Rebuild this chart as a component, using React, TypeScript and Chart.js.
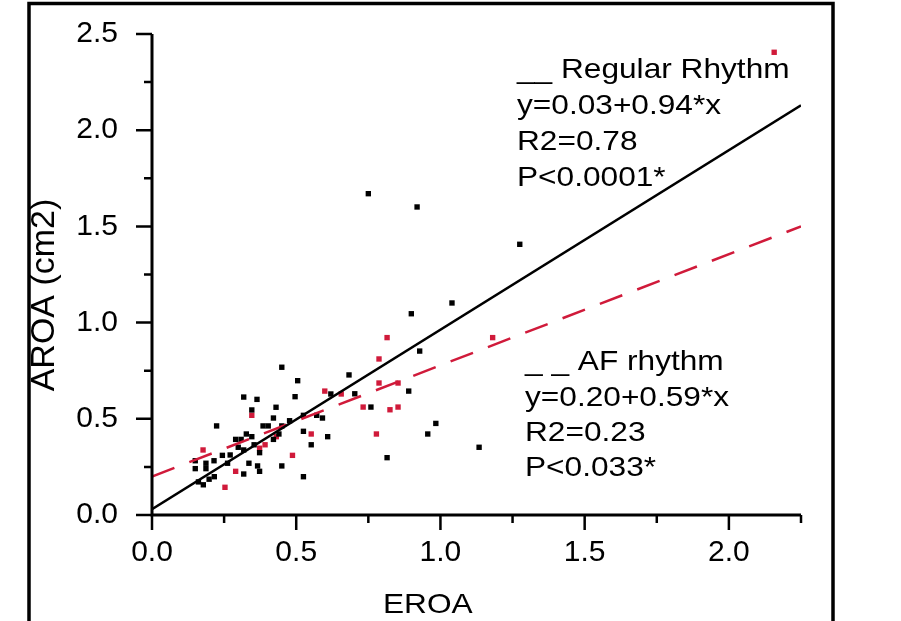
import { useEffect, useRef } from "react";
import { Chart, registerables } from "chart.js";

Chart.register(...registerables);

// Regular rhythm (black squares)
const regularX = [0.150, 0.150, 0.161, 0.178, 0.187, 0.187, 0.198, 0.215, 0.216, 0.224, 0.244, 0.262, 0.271, 0.290, 0.299, 0.309, 0.318, 0.318, 0.318, 0.327, 0.336, 0.346, 0.346, 0.354, 0.364, 0.366, 0.373, 0.373, 0.385, 0.403, 0.421, 0.421, 0.430, 0.440, 0.450, 0.450, 0.450, 0.477, 0.496, 0.505, 0.525, 0.525, 0.525, 0.552, 0.571, 0.591, 0.609, 0.620, 0.683, 0.703, 0.750, 0.759, 0.815, 0.890, 0.899, 0.919, 0.928, 0.956, 0.984, 1.040, 1.134, 1.275];
const regularY = [0.282, 0.241, 0.172, 0.157, 0.269, 0.241, 0.186, 0.282, 0.199, 0.463, 0.310, 0.269, 0.312, 0.393, 0.352, 0.393, 0.613, 0.338, 0.213, 0.421, 0.269, 0.546, 0.407, 0.365, 0.601, 0.255, 0.324, 0.227, 0.463, 0.463, 0.504, 0.393, 0.560, 0.421, 0.768, 0.463, 0.255, 0.490, 0.615, 0.698, 0.518, 0.435, 0.199, 0.365, 0.518, 0.504, 0.407, 0.629, 0.728, 0.630, 1.670, 0.561, 0.298, 0.644, 1.046, 1.601, 0.852, 0.421, 0.476, 1.102, 0.352, 1.407];

// AF rhythm (red squares)
const afX = [0.177, 0.253, 0.290, 0.346, 0.373, 0.392, 0.431, 0.487, 0.552, 0.599, 0.656, 0.732, 0.778, 0.787, 0.787, 0.815, 0.825, 0.853, 0.853, 1.181, 2.157];
const afY = [0.338, 0.144, 0.227, 0.518, 0.347, 0.365, 0.407, 0.310, 0.421, 0.644, 0.629, 0.561, 0.421, 0.686, 0.811, 0.922, 0.547, 0.561, 0.686, 0.922, 2.405];

// Regression line end points (as drawn in the figure)
const lineX = [0, 2.25];
const regularLineY = [0.03, 2.13];
const afLineY = [0.2, 1.5];

// Axes
const xTickValues = [0, 0.25, 0.5, 0.75, 1.0, 1.25, 1.5, 1.75, 2.0, 2.25];
const xTickLabels = ["0.0", "", "0.5", "", "1.0", "", "1.5", "", "2.0", ""];
const yTickValues = [0, 0.25, 0.5, 0.75, 1.0, 1.25, 1.5, 1.75, 2.0, 2.25, 2.5];
const yTickLabels = ["0.0", "", "0.5", "", "1.0", "", "1.5", "", "2.0", "", "2.5"];
const xTitle = "EROA";
const yTitle = "AROA (cm2)";

const regularText = ["__ Regular Rhythm", "y=0.03+0.94*x", "R2=0.78", "P<0.0001*"];
const afText = ["_ _ AF rhythm", "y=0.20+0.59*x", "R2=0.23", "P<0.033*"];

const RED = "#d01a3a";
const FONT = "'Liberation Sans', Arial, sans-serif";
const STRETCH = 1.13;

function drawStretched(ctx: CanvasRenderingContext2D, text: string, x: number, y: number) {
  ctx.save();
  ctx.translate(x, y);
  ctx.scale(STRETCH, 1);
  ctx.fillText(text, 0, 0);
  ctx.restore();
}

function zeroPadding(s: any) {
  s.paddingTop = 0;
  s.paddingBottom = 0;
  s.paddingLeft = 0;
  s.paddingRight = 0;
}

const decorPlugin = {
  id: "decor",
  afterDraw(chart: any) {
    const ctx: CanvasRenderingContext2D = chart.ctx;
    const { left, right, top, bottom } = chart.chartArea;
    const xs = chart.scales.x;
    const ys = chart.scales.y;
    ctx.save();
    ctx.strokeStyle = "#000";
    // outer frame
    ctx.lineWidth = 3.5;
    ctx.strokeRect(29, 3.5, 804, 700);
    // axis lines
    ctx.lineWidth = 3;
    ctx.beginPath();
    ctx.moveTo(left, top);
    ctx.lineTo(left, bottom + 1.5);
    ctx.moveTo(left - 1.5, bottom);
    ctx.lineTo(right, bottom);
    ctx.stroke();
    // tick marks
    ctx.lineWidth = 2.5;
    ctx.beginPath();
    xs.ticks.forEach((t: any, i: number) => {
      const p = xs.getPixelForValue(t.value);
      const len = xTickLabels[i] ? 15 : 8;
      ctx.moveTo(p, bottom);
      ctx.lineTo(p, bottom + len);
    });
    ys.ticks.forEach((t: any, i: number) => {
      const p = ys.getPixelForValue(t.value);
      const len = yTickLabels[i] ? 16 : 8;
      ctx.moveTo(left, p);
      ctx.lineTo(left - len, p);
    });
    ctx.stroke();
    // annotation text
    ctx.fillStyle = "#000";
    ctx.font = `28px ${FONT}`;
    ctx.textAlign = "left";
    ctx.textBaseline = "alphabetic";
    const regBase = [78, 113.5, 149.5, 185.5];
    regularText.forEach((s, i) => drawStretched(ctx, s, 517, regBase[i]));
    const afBase = [370, 405.5, 440.5, 476];
    afText.forEach((s, i) => drawStretched(ctx, s, 525, afBase[i]));
    // axis titles
    drawStretched(ctx, xTitle, 383, 613);
    ctx.save();
    ctx.translate(54, 295);
    ctx.rotate(-Math.PI / 2);
    ctx.font = `34px ${FONT}`;
    ctx.textAlign = "center";
    ctx.fillText(yTitle, 0, 0);
    ctx.restore();
    ctx.restore();
  },
};

export default function App() {
  const canvasRef = useRef<HTMLCanvasElement | null>(null);

  useEffect(() => {
    document.body.style.margin = "0";
    const canvas = canvasRef.current;
    if (!canvas) return;
    const tickFont = { family: FONT, size: 30 };
    const chart = new Chart(canvas, {
      type: "scatter",
      data: {
        datasets: [
          {
            label: "Regular fit",
            data: lineX.map((x, i) => ({ x, y: regularLineY[i] })),
            showLine: true,
            borderColor: "#000",
            borderWidth: 2.5,
            pointRadius: 0,
            fill: false,
          } as any,
          {
            label: "AF fit",
            data: lineX.map((x, i) => ({ x, y: afLineY[i] })),
            showLine: true,
            borderColor: RED,
            borderWidth: 2.5,
            borderDash: [24, 16],
            pointRadius: 0,
            fill: false,
          } as any,
          {
            label: "Regular Rhythm",
            data: regularX.map((x, i) => ({ x, y: regularY[i] })),
            pointStyle: "rect",
            pointRadius: 3.8,
            borderWidth: 0,
            backgroundColor: "#000",
            borderColor: "#000",
          } as any,
          {
            label: "AF rhythm",
            data: afX.map((x, i) => ({ x, y: afY[i] })),
            pointStyle: "rect",
            pointRadius: 3.8,
            borderWidth: 0,
            backgroundColor: RED,
            borderColor: RED,
          } as any,
        ],
      },
      options: {
        responsive: false,
        animation: false,
        devicePixelRatio: 1,
        layout: { padding: { left: 0, right: 100, top: 34, bottom: 0 } },
        plugins: { legend: { display: false }, tooltip: { enabled: false } },
        scales: {
          x: {
            type: "linear",
            min: 0,
            max: 2.25,
            afterBuildTicks: (s: any) => {
              s.ticks = xTickValues.map((v) => ({ value: v }));
            },
            afterFit: (s: any) => {
              s.height = 106;
              zeroPadding(s);
            },
            grid: { display: false, drawTicks: false },
            border: { display: false },
            ticks: {
              autoSkip: false,
              maxRotation: 0,
              padding: 20,
              color: "#000",
              font: tickFont,
              callback: (_v: any, i: number) => xTickLabels[i],
            },
          },
          y: {
            type: "linear",
            min: 0,
            max: 2.5,
            afterBuildTicks: (s: any) => {
              s.ticks = yTickValues.map((v) => ({ value: v }));
            },
            afterFit: (s: any) => {
              s.width = 152;
              zeroPadding(s);
            },
            grid: { display: false, drawTicks: false },
            border: { display: false },
            ticks: {
              autoSkip: false,
              padding: 34,
              color: "#000",
              font: tickFont,
              callback: (_v: any, i: number) => yTickLabels[i],
            },
          },
        },
      } as any,
      plugins: [decorPlugin],
    });
    return () => chart.destroy();
  }, []);

  return (
    <div style={{ position: "absolute", left: 0, top: 0, width: 901, height: 621, background: "#fff" }}>
      <canvas ref={canvasRef} width={901} height={621} style={{ display: "block" }} />
    </div>
  );
}
